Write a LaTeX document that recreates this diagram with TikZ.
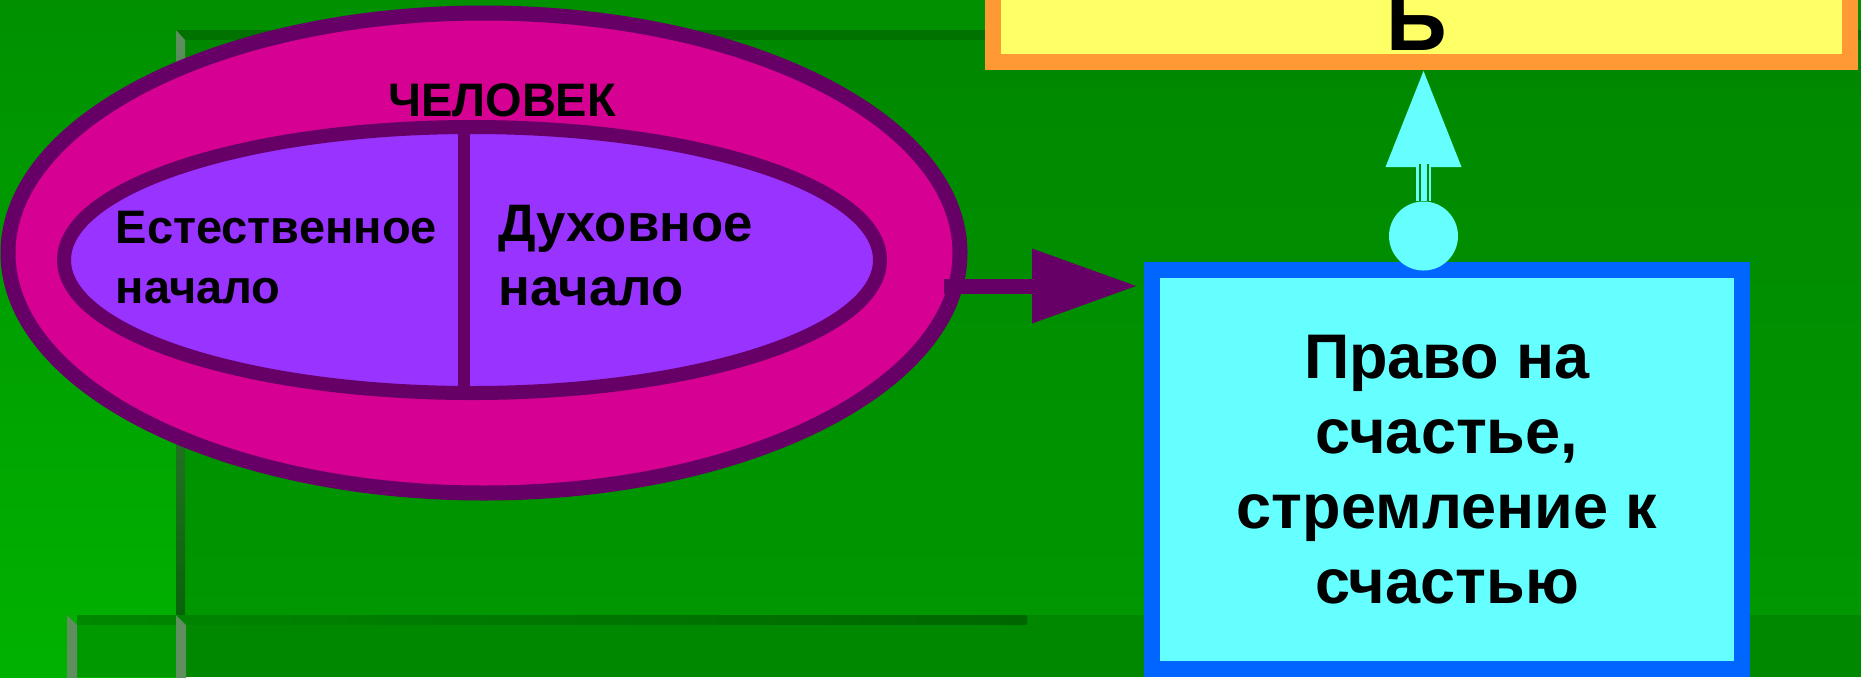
\documentclass[tikz,border=0pt]{standalone}
\usepackage{fontspec}
\setmainfont{Liberation Sans}
\usetikzlibrary{shapes.geometric, arrows.meta}
\definecolor{bggreen}{HTML}{009000}
\definecolor{litegreen}{HTML}{00B200}
\definecolor{panelgreen}{HTML}{008800}
\definecolor{panellite}{HTML}{009700}
\definecolor{paneldark}{HTML}{007200}
\definecolor{bottomlite}{HTML}{009A00}
\definecolor{edgegrey}{HTML}{5F8F5F}
\definecolor{edgedark}{HTML}{086408}
\definecolor{plum}{HTML}{660066}
\definecolor{rose}{HTML}{D60093}
\definecolor{lilac}{HTML}{9933FF}
\definecolor{aqua}{HTML}{66FFFF}
\definecolor{azure}{HTML}{0066FF}
\definecolor{lemon}{HTML}{FFFF66}
\definecolor{tangerine}{HTML}{FF9933}
\newcommand{\bevel}[3][edgegrey]{
    \fill[#1] (#2, #3) -- ++(10, 10) -- ++(0, 80) -- ++(-10, 0) -- cycle;
}
\newcommand{\slit}[2]{
    \draw[green gap] ([xshift=#2]#1.north) -- ++(0, -37);
}
\tikzset{
    ring/.style={ellipse, draw=plum, fill=rose, line width=1.5mm, inner sep=0pt,
        minimum width=95.2mm, minimum height=48mm},
    core/.style={ellipse, draw=plum, fill=lilac, line width=1.4mm, inner sep=0pt,
        minimum width=81.6mm, minimum height=26.6mm},
    divider/.style={plum, line width=1.2mm},
    title/.style={inner sep=0pt, font=\bfseries\fontsize{13.37}{16}\selectfont},
    half/.style={anchor=north west, align=left, inner sep=0pt,
        font=\bfseries\fontsize{13.37}{17.07}\selectfont},
    bighalf/.style={half, font=\bfseries\fontsize{15}{18.2}\selectfont},
    goal/.style={draw=azure, fill=aqua, line width=1.6mm, inner sep=0pt, align=center,
        minimum width=59mm, minimum height=39.9mm,
        font=\bfseries\fontsize{17.93}{21.34}\selectfont},
    target/.style={draw=tangerine, fill=lemon, line width=1.6mm, inner sep=0pt,
        minimum width=85.7mm, minimum height=38.4mm},
    tgtlabel/.style={anchor=base, inner sep=0pt, font=\bfseries\fontsize{24}{28}\selectfont},
    dot/.style={circle, fill=aqua, inner sep=0pt, minimum size=6.9mm},
    push/.style={plum, line width=1.5mm, shorten >=0.8mm,
        -{Triangle[length=10.4mm, width=7.5mm, line width=0pt]}},
    lift/.style={aqua, line width=1.55mm, shorten >=0.1mm,
        -{Triangle[length=9.6mm, width=7.6mm, line width=0pt]}},
    green gap/.style={panelgreen, line width=0.22mm}
}

\begin{document}
\begin{tikzpicture}[x=0.1mm, y=-0.1mm]
	\useasboundingbox (0,0) rectangle (1861,677);
	\clip (0,0) rectangle (1861,677);

	\fill[bggreen] (0,0) rectangle (1861,677);
	\shade[top color=bggreen, bottom color=litegreen] (0,0) rectangle (176,677);
	\shade[top color=panelgreen, bottom color=panellite] (176,30) rectangle (1861,615);
	\fill[paneldark] (176,30) rectangle (1861,40);
	\shade[top color=edgegrey, bottom color=edgedark] (176,30) -- (185,40) -- (185,615) -- (176,615) -- cycle;
	\fill[bottomlite] (77,615) rectangle (176,677);
	\fill[panelgreen] (185,615) rectangle (1861,677);
	\shade[left color=panelgreen, right color=paneldark!90!black] (77,615) rectangle (1027,624);
	\bevel{67}{615};
	\bevel{176}{615};

	\node[ring] (human) at (484,253) {};
	\node[core] (soul) at (472,260) {};
	\draw[divider] ([xshift=-0.8mm]soul.north) -- ([xshift=-0.8mm]soul.south);
	\node[title] (humanlbl) at (502,100) {ЧЕЛОВЕК};
	\node[half] (natural) at (115,210) {Естественное\\начало};
	\node[bighalf] (spirit) at (498,205) {Духовное\\начало};

	\node[goal] (happy) at (1447,469.5) {Право на\\счастье,\\стремление к\\счастью};
	\node[target] (person) at (1421.5,-130) {};
	\node[tgtlabel] (personlbl) at (1417,50) {Ь};
	\node[dot] (knob) at (1423.5,236) {};

	\coordinate (armstart) at (944,286);
	\draw[push] (armstart) -- (armstart -| happy.west);
	\draw[lift] (knob.north) -- (knob.north |- person.south);
	\slit{knob}{-0.35mm};
	\slit{knob}{0.45mm};
\end{tikzpicture}
\end{document}
